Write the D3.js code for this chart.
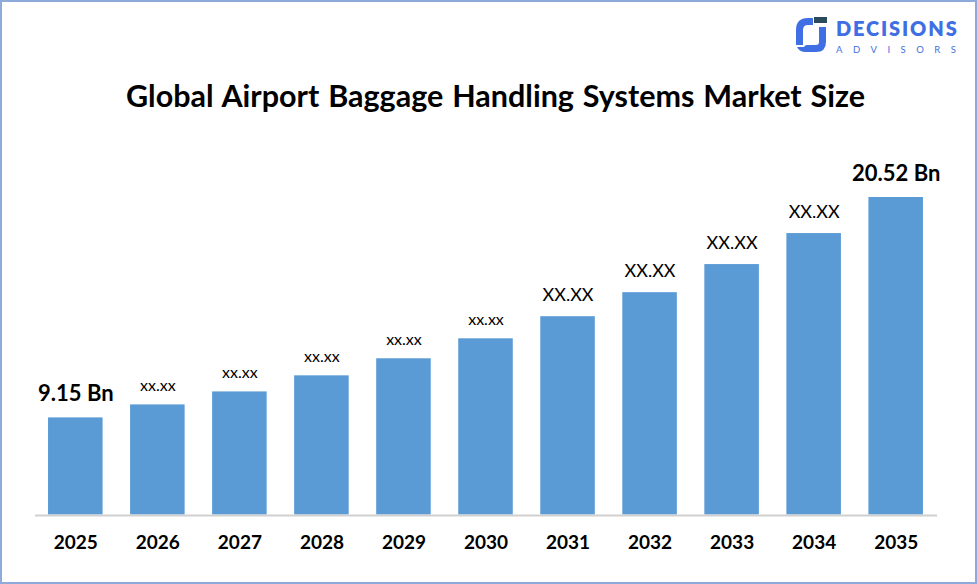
<!DOCTYPE html>
<html>
<head>
<meta charset="utf-8">
<script src="https://cdn.jsdelivr.net/npm/d3@7"></script>
<style>
  html, body { margin: 0; padding: 0; background: #fff; }
  svg { display: block; }
  text { font-family: Lato, "Noto Sans", sans-serif; fill: #000; }
</style>
</head>
<body>
<div id="chart"></div>
<script>
var years = ['2025', '2026', '2027', '2028', '2029', '2030', '2031', '2032', '2033', '2034', '2035'];
var values = [9.15, 9.82, 10.49, 11.32, 12.2, 13.23, 14.37, 15.61, 17.06, 18.66, 20.52];
var labels = ['9.15 Bn', 'xx.xx', 'xx.xx', 'xx.xx', 'xx.xx', 'xx.xx', 'XX.XX', 'XX.XX', 'XX.XX', 'XX.XX', '20.52 Bn'];

var width = 977, height = 584;
var svg = d3.select('#chart').append('svg').attr('width', width).attr('height', height);

/** Frame */
svg.append('rect')
    .attr('x', 1).attr('y', 1)
    .attr('width', width - 2).attr('height', height - 2)
    .attr('fill', '#fff').attr('stroke', '#8eaadb').attr('stroke-width', 2);

/** Scales: the value axis of the original does not start at zero */
var x = d3.scaleBand().domain(years).range([34.5, 936.5]).paddingInner(0.335).paddingOuter(0.165);
var y = d3.scaleLinear().domain([4.14, 20.52]).range([514.5, 197]);

/** Title */
svg.append('text')
    .attr('x', 495.5).attr('y', 107)
    .attr('text-anchor', 'middle')
    .attr('font-size', 30.5).attr('font-weight', 700)
    .attr('word-spacing', 1.5)
    .text('Global Airport Baggage Handling Systems Market Size');

/** Bars */
svg.selectAll('rect.bar')
    .data(years)
    .enter()
    .append('rect')
    .attr('class', 'bar')
    .attr('x', function (d) { return x(d); })
    .attr('width', x.bandwidth())
    .attr('y', function (d, i) { return y(values[i]); })
    .attr('height', function (d, i) { return y.range()[0] - y(values[i]); })
    .attr('fill', '#5b9bd5');

/** Labels above bars */
svg.selectAll('text.val')
    .data(labels)
    .enter()
    .append('text')
    .attr('class', 'val')
    .attr('x', function (d, i) { return x(years[i]) + x.bandwidth() / 2 + 0.5; })
    .attr('y', function (d, i) {
        var big = d.indexOf('Bn') > -1;
        return y(values[i]) - (big ? 16 : d === 'xx.xx' ? 13.5 : 15);
    })
    .attr('text-anchor', 'middle')
    .attr('font-size', function (d) { return d.indexOf('Bn') > -1 ? 22 : d === 'xx.xx' ? 16 : 18; })
    .attr('font-weight', function (d) { return d.indexOf('Bn') > -1 ? 700 : 400; })
    .text(function (d) { return d; });

/** X axis */
var axis = svg.append('g')
    .attr('transform', 'translate(0,515)')
    .call(d3.axisBottom(x).tickSize(0).tickPadding(21));
axis.select('.domain').attr('stroke', '#d0d0d0').attr('stroke-width', 2);
axis.selectAll('text')
    .attr('font-family', 'Lato, "Noto Sans", sans-serif')
    .attr('font-size', 19).attr('font-weight', 700)
    .attr('dx', 0.5);

/** Logo */
var logo = svg.append('g');
logo.append('path')
    .attr('d', 'M796 45V30Q796 18 808 18H813V25H808Q803 25 803 30V45Z')
    .attr('fill', '#3f6fe3');
logo.append('path')
    .attr('d', 'M819 27H826V42Q826 52 816 52H806Q799 52 797 47H804Q805 45 807 45H816Q819 45 819 42Z')
    .attr('fill', '#3f6fe3');
logo.append('rect')
    .attr('x', 814).attr('y', 17).attr('width', 13).attr('height', 6)
    .attr('fill', '#2b4a5c');
logo.append('text')
    .attr('x', 836).attr('y', 36)
    .attr('font-family', 'Inter, sans-serif')
    .attr('font-size', 20).attr('font-weight', 800)
    .attr('letter-spacing', 1.85)
    .style('fill', '#3f6fe3')
    .text('DECISIONS');
logo.append('text')
    .attr('x', 836).attr('y', 53)
    .attr('font-family', 'Inter, sans-serif')
    .attr('font-size', 9.5)
    .attr('letter-spacing', 10.5)
    .style('fill', '#3f6fe3')
    .text('ADVISORS');
</script>
</body>
</html>
